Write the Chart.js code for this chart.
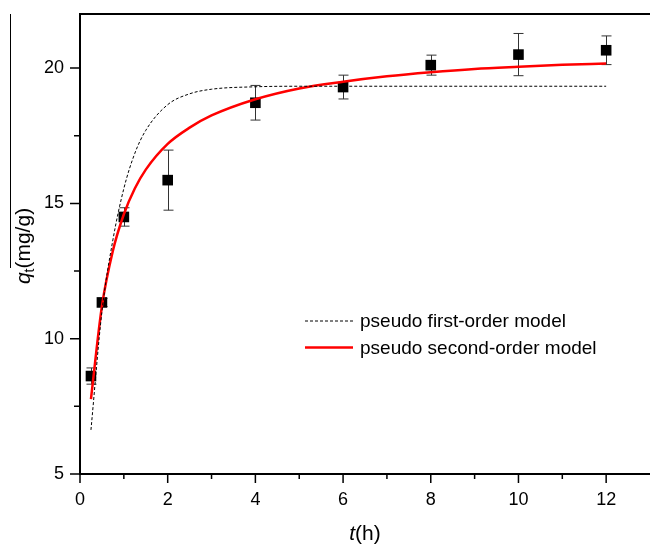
<!DOCTYPE html>
<html>
<head>
<meta charset="utf-8">
<script src="https://cdn.jsdelivr.net/npm/chart.js@4.4.1/dist/chart.umd.min.js"></script>
<style>
  html, body { margin: 0; padding: 0; background: #fff; }
  #wrap { width: 650px; height: 545px; position: relative; }
</style>
</head>
<body>
<div id="wrap"><canvas id="kineticsChart" width="650" height="545"></canvas></div>
<script>
// measured adsorption (t in h, qt in mg/g) with error bars
const timeH = [0.25, 0.5, 1, 2, 4, 6, 8, 10, 12];
const qtMeasured = [8.62, 11.34, 14.5, 15.86, 18.72, 19.3, 20.11, 20.5, 20.66];
const qtError = [0.3, 0.15, 0.34, 1.11, 0.64, 0.44, 0.37, 0.78, 0.53];

// fitted curves
const fitTime = [0.25, 0.5, 0.75, 1, 1.25, 1.5, 2, 2.5, 3, 4, 5, 6, 7, 8, 9, 10, 11, 12];
const firstOrderFit = [6.63, 11.0, 13.65, 15.55, 16.85, 17.7, 18.65, 19.05, 19.22, 19.31, 19.33, 19.33, 19.33, 19.33, 19.33, 19.33, 19.33, 19.33];
const secondOrderFit = [7.77, 11.2, 13.25, 14.6, 15.55, 16.25, 17.2, 17.8, 18.25, 18.85, 19.25, 19.5, 19.7, 19.85, 19.97, 20.05, 20.12, 20.17];

const xMajorTicks = [0, 2, 4, 6, 8, 10, 12];
const xMinorTicks = [1, 3, 5, 7, 9, 11];
const yMajorTicks = [5, 10, 15, 20];
const yMinorTicks = [7.5, 12.5, 17.5];

const legendLabels = ['pseudo first-order model', 'pseudo second-order model'];

const FONT = '"Liberation Sans", Arial, sans-serif';

const toPoints = (xs, ys) => xs.map((x, i) => ({ x, y: ys[i] }));

// error bars under the squares
const errorBars = {
    id: 'errorBars',
    beforeDatasetDraw(chart, args) {
        if (args.index !== 2) return;
        const { ctx, scales: { x, y } } = chart;
        ctx.save();
        ctx.strokeStyle = '#333';
        ctx.lineWidth = 1;
        timeH.forEach((t, i) => {
            const px = Math.round(x.getPixelForValue(t)) + 0.5;
            const top = y.getPixelForValue(qtMeasured[i] + qtError[i]);
            const bot = y.getPixelForValue(qtMeasured[i] - qtError[i]);
            ctx.beginPath();
            ctx.moveTo(px, top); ctx.lineTo(px, bot);
            ctx.moveTo(px - 5, top); ctx.lineTo(px + 5, top);
            ctx.moveTo(px - 5, bot); ctx.lineTo(px + 5, bot);
            ctx.stroke();
        });
        ctx.restore();
    }
};

// axes frame, major/minor ticks, titles and legend
const frame = {
    id: 'frame',
    afterDraw(chart) {
        const { ctx, chartArea: a, scales: { x, y } } = chart;
        ctx.save();
        ctx.strokeStyle = '#000';
        ctx.lineWidth = 2;
        ctx.beginPath();
        ctx.moveTo(a.left, a.top); ctx.lineTo(a.right, a.top);
        ctx.moveTo(a.left, a.top - 1); ctx.lineTo(a.left, a.bottom + 1);
        ctx.moveTo(a.left - 1, a.bottom); ctx.lineTo(a.right, a.bottom);
        ctx.stroke();

        ctx.lineWidth = 1.5;
        ctx.beginPath();
        xMajorTicks.forEach(v => { const p = x.getPixelForValue(v); ctx.moveTo(p, a.bottom); ctx.lineTo(p, a.bottom + 9); });
        xMinorTicks.forEach(v => { const p = x.getPixelForValue(v); ctx.moveTo(p, a.bottom); ctx.lineTo(p, a.bottom + 5); });
        yMajorTicks.forEach(v => { const p = y.getPixelForValue(v); ctx.moveTo(a.left, p); ctx.lineTo(a.left - 10, p); });
        yMinorTicks.forEach(v => { const p = y.getPixelForValue(v); ctx.moveTo(a.left, p); ctx.lineTo(a.left - 6, p); });
        ctx.stroke();

        // thin vertical line left of the y title
        ctx.lineWidth = 1;
        ctx.beginPath();
        ctx.moveTo(10.5, a.top); ctx.lineTo(10.5, 268);
        ctx.stroke();

        ctx.fillStyle = '#000';
        ctx.textBaseline = 'alphabetic';

        // x title: t(h)
        ctx.font = 'italic 21px ' + FONT;
        const tW = ctx.measureText('t').width;
        ctx.font = '21px ' + FONT;
        const hW = ctx.measureText('(h)').width;
        let sx = 365 - (tW + hW) / 2;
        ctx.font = 'italic 21px ' + FONT;
        ctx.fillText('t', sx, 540);
        ctx.font = '21px ' + FONT;
        ctx.fillText('(h)', sx + tW, 540);

        // y title: q_t(mg/g), rotated
        ctx.translate(30, 246);
        ctx.rotate(-Math.PI / 2);
        ctx.font = 'italic 21px ' + FONT;
        const qW = ctx.measureText('q').width;
        ctx.font = '14px ' + FONT;
        const sW = ctx.measureText('t').width;
        ctx.font = '21px ' + FONT;
        const uW = ctx.measureText('(mg/g)').width;
        sx = -(qW + sW + uW) / 2;
        ctx.font = 'italic 21px ' + FONT;
        ctx.fillText('q', sx, 0);
        ctx.font = '14px ' + FONT;
        ctx.fillText('t', sx + qW, 4);
        ctx.font = '21px ' + FONT;
        ctx.fillText('(mg/g)', sx + qW + sW, 0);
        ctx.setTransform(1, 0, 0, 1, 0, 0);

        // legend
        const rows = [
            { y: 321, color: '#000', width: 1, dash: [3, 2] },
            { y: 347.5, color: '#ff0000', width: 2.5, dash: [] }
        ];
        rows.forEach((r, i) => {
            ctx.strokeStyle = r.color;
            ctx.lineWidth = r.width;
            ctx.setLineDash(r.dash);
            ctx.beginPath();
            ctx.moveTo(305, r.y); ctx.lineTo(353, r.y);
            ctx.stroke();
            ctx.setLineDash([]);
            ctx.font = '19px ' + FONT;
            ctx.textBaseline = 'middle';
            ctx.fillText(legendLabels[i], 360, r.y + 1);
        });
        ctx.restore();
    }
};

const ctx = document.getElementById('kineticsChart').getContext('2d');
new Chart(ctx, {
    type: 'scatter',
    data: {
        datasets: [
            {
                label: legendLabels[0],
                data: toPoints(fitTime, firstOrderFit),
                showLine: true,
                borderColor: '#000',
                borderWidth: 1,
                borderDash: [3, 2],
                pointRadius: 0,
                cubicInterpolationMode: 'monotone'
            },
            {
                label: legendLabels[1],
                data: toPoints(fitTime, secondOrderFit),
                showLine: true,
                borderColor: '#ff0000',
                borderWidth: 2.5,
                pointRadius: 0,
                cubicInterpolationMode: 'monotone'
            },
            {
                label: 'experimental',
                data: toPoints(timeH, qtMeasured),
                pointStyle: 'rect',
                pointRadius: 7.5,
                backgroundColor: '#000',
                borderColor: '#000',
                borderWidth: 0
            }
        ]
    },
    options: {
        responsive: false,
        animation: false,
        devicePixelRatio: 1,
        layout: { autoPadding: false, padding: { top: 14, right: 0, left: 0, bottom: 0 } },
        plugins: { legend: { display: false }, tooltip: { enabled: false } },
        scales: {
            x: {
                type: 'linear',
                min: 0,
                max: 13,
                afterFit: s => { s.height = 71; s.paddingLeft = 0; s.paddingRight = 0; },
                grid: { display: false, drawTicks: false },
                border: { display: false },
                ticks: {
                    stepSize: 2,
                    includeBounds: false,
                    padding: 15,
                    color: '#000',
                    font: { family: FONT, size: 18 }
                }
            },
            y: {
                min: 5,
                max: 22,
                afterFit: s => { s.width = 80; s.paddingTop = 0; s.paddingBottom = 0; },
                grid: { display: false, drawTicks: false },
                border: { display: false },
                ticks: {
                    stepSize: 5,
                    includeBounds: false,
                    padding: 16,
                    color: '#000',
                    font: { family: FONT, size: 18 }
                }
            }
        }
    },
    plugins: [errorBars, frame]
});
</script>
</body>
</html>
